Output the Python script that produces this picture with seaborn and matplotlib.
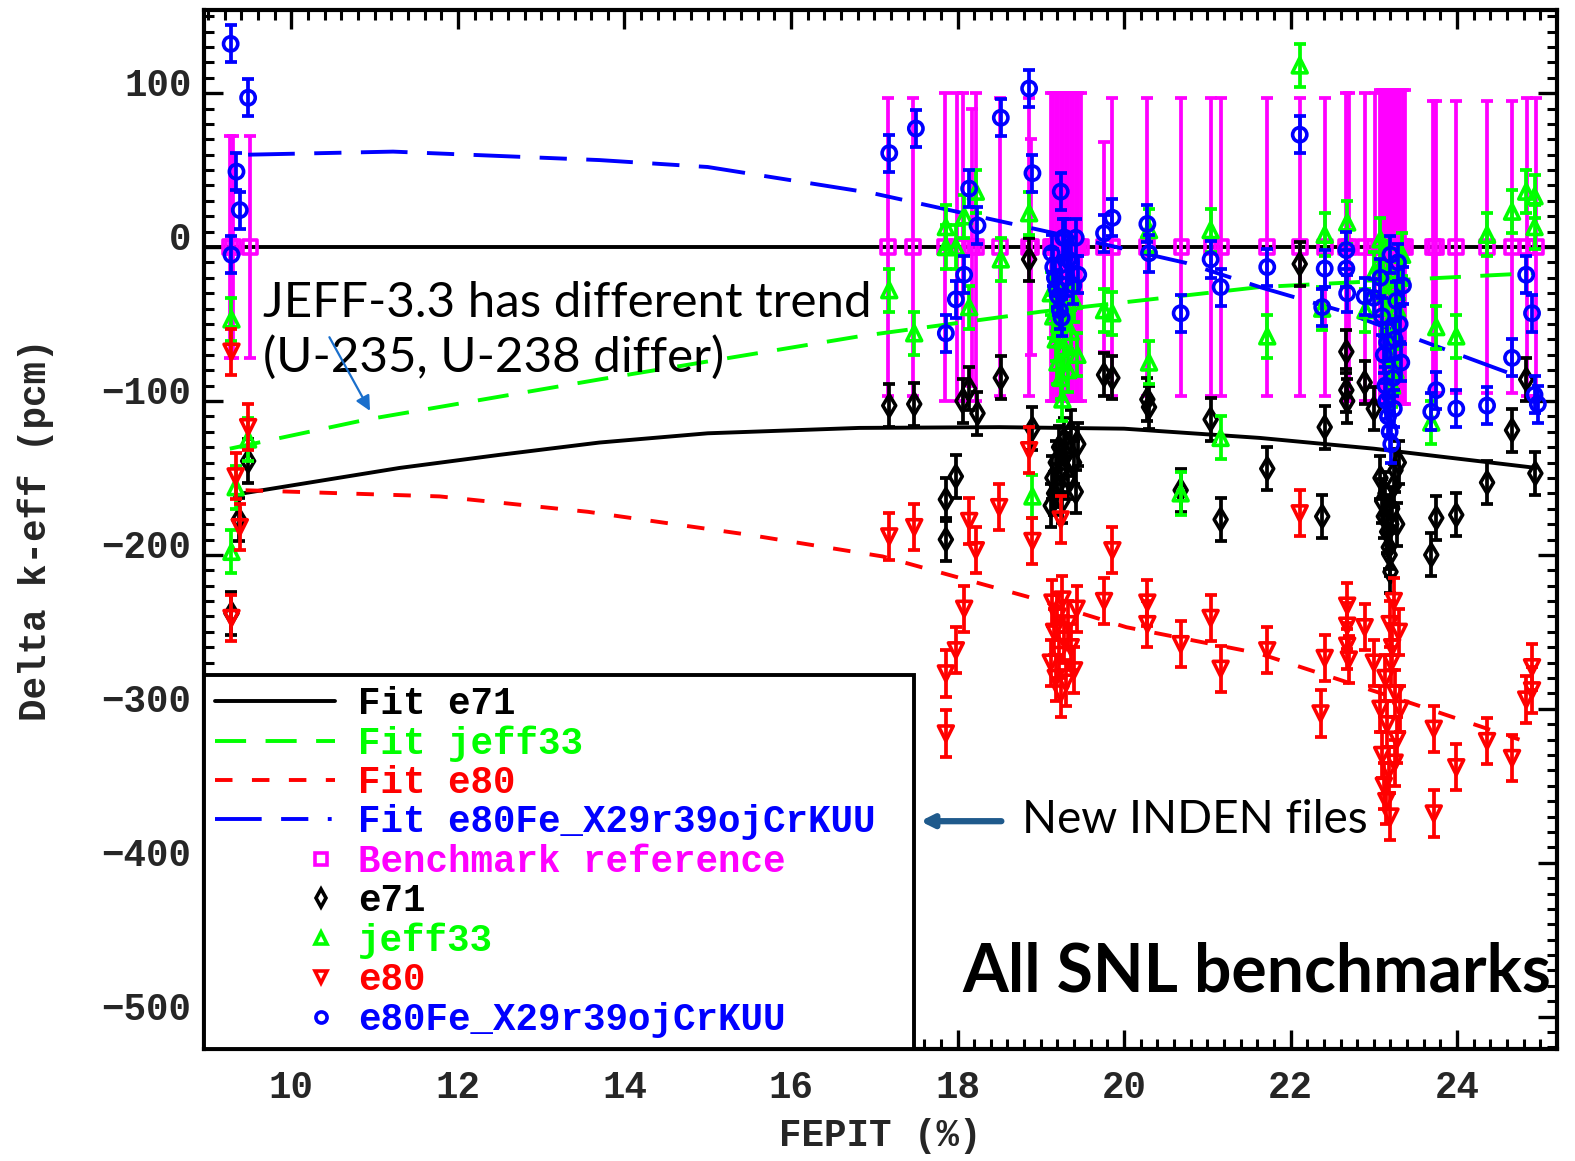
import numpy as np
import pandas as pd
import matplotlib
matplotlib.use("Agg")
import matplotlib.pyplot as plt
import matplotlib.transforms as mtransforms
import seaborn as sns
from matplotlib.lines import Line2D
from matplotlib.ticker import MultipleLocator
from matplotlib.font_manager import FontProperties
from matplotlib.legend_handler import HandlerLine2D

# ---------------- data ----------------
bench_x = [9.26, 9.30, 9.50,
           17.17, 17.46, 17.85, 17.99, 18.06, 18.17, 18.22, 18.51, 18.86, 18.88,
           19.12, 19.15, 19.18, 19.21, 19.24, 19.27, 19.30, 19.33, 19.36, 19.39, 19.42, 19.45, 19.48,
           19.76, 19.86, 20.28, 20.69, 21.05, 21.17, 21.72, 22.11, 22.41, 22.66, 22.70, 22.89, 23.01,
           23.07, 23.095, 23.12, 23.145, 23.17, 23.195, 23.22, 23.245, 23.27, 23.295, 23.32, 23.345, 23.37,
           23.71, 23.75, 23.99, 24.36, 24.66, 24.84, 24.95]
bench_err = [72, 72, 72,
             97, 97, 100, 100, 100, 90, 100, 97, 97, 70,
             100, 100, 100, 100, 100, 100, 100, 100, 100, 100, 100, 100, 100,
             68, 97, 97, 97, 97, 97, 97, 97, 97, 100, 100, 100, 100,
             102, 102, 102, 102, 102, 102, 102, 102, 102, 102, 102, 102, 102,
             95, 95, 95, 95, 95, 97, 97]

e71_x = [9.48, 9.37, 9.28,
         17.18, 17.48, 17.86, 17.86, 17.98, 18.06, 18.14, 18.24, 18.52, 18.86, 18.90,
         19.12, 19.14, 19.16, 19.18, 19.20, 19.22, 19.24, 19.26, 19.28, 19.30, 19.33, 19.36, 19.40, 19.42, 19.45,
         19.76, 19.86, 20.28, 20.30, 20.68, 21.04, 21.16, 21.72, 22.11, 22.41, 22.38, 22.67, 22.67, 22.68, 22.89, 23.00,
         23.08, 23.10, 23.12, 23.14, 23.16, 23.18, 23.20, 23.22, 23.24, 23.26, 23.28, 23.30, 23.19, 23.21,
         23.75, 23.69, 23.99, 24.36, 24.66, 24.83, 24.94]
e71_y = [-139, -177, -238,
         -103, -102, -164, -190, -149, -100, -92, -108, -85, -8, -118,
         -168, -150, -160, -140, -155, -130, -145, -165, -125, -135, -150, -120, -140, -159, -128,
         -83, -85, -99, -104, -158, -112, -177, -144, -11, -117, -175, -68, -93, -100, -88, -105,
         -150, -165, -175, -160, -185, -195, -211, -170, -155, -145, -180, -140, -200, -180,
         -176, -200, -174, -153, -119, -86, -147]
e71_err = 14

jeff33_x = [9.28, 9.48, 9.33, 9.28,
            17.18, 17.48, 17.86, 17.86, 17.98, 18.08, 18.14, 18.22, 18.52, 18.86, 18.90,
            19.12, 19.15, 19.18, 19.20, 19.22, 19.24, 19.26, 19.28, 19.30, 19.33, 19.36, 19.40, 19.44,
            19.76, 19.86, 20.30, 20.30, 20.68, 21.04, 21.16, 21.72, 22.11, 22.41, 22.38, 22.68, 22.90, 23.00,
            23.08, 23.11, 23.14, 23.17, 23.20, 23.22, 23.25, 23.28, 23.31, 23.34, 23.19, 23.26,
            23.75, 23.69, 23.99, 24.36, 24.66, 24.83, 24.93, 24.93]
jeff33_y = [-47, -125, -156, -198,
            -28, -56, 13, 0, 0, 20, -39, 36, -8, 22, -162,
            -30, -45, -60, -75, -50, -85, -99, -65, -40, -80, -55, -35, -70,
            -41, -43, -75, 11, -160, 11, -124, -58, 118, 8, -40, 16, -41, -17,
            5, -10, -30, -50, -70, -90, -60, -40, -20, -5, -15, -80,
            -52, -114, -58, 8, 23, 36, 33, 13]
jeff33_err = 14

e80_x = [9.28, 9.48, 9.33, 9.38, 9.28,
         17.18, 17.48, 17.86, 17.86, 17.98, 18.08, 18.14, 18.22, 18.50, 18.86, 18.90, 19.24,
         19.12, 19.14, 19.16, 19.18, 19.20, 19.22, 19.24, 19.26, 19.28, 19.30, 19.33, 19.36, 19.40, 19.43,
         19.76, 19.86, 20.28, 20.28, 20.68, 21.04, 21.16, 21.72, 22.11, 22.41, 22.36,
         22.68, 22.68, 22.68, 22.70, 22.89, 23.00,
         23.08, 23.10, 23.12, 23.14, 23.16, 23.18, 23.20, 23.22, 23.24, 23.26, 23.28, 23.30, 23.32,
         23.15, 23.21, 23.19, 23.25,
         23.72, 23.72, 23.99, 24.36, 24.66, 24.83, 24.90, 24.90]
e80_y = [-68, -117, -149, -182, -241,
         -188, -182, -277, -316, -262, -235, -178, -197, -169, -132, -191, -177,
         -270, -231, -250, -280, -240, -265, -290, -229, -255, -283, -245, -260, -275, -235,
         -230, -197, -231, -245, -258, -241, -274, -262, -173, -267, -303,
         -233, -246, -259, -268, -247, -270,
         -300, -330, -350, -280, -310, -340, -370, -260, -230, -290, -320, -250, -300,
         -360, -270, -245, -335,
         -368, -313, -338, -321, -332, -294, -273, -288]
e80_err = 15

e80fe_x = [9.27, 9.48, 9.34, 9.38, 9.28,
           17.18, 17.50, 17.86, 17.98, 18.08, 18.14, 18.24, 18.52, 18.86, 18.90, 19.24,
           19.13, 19.15, 19.17, 19.19, 19.21, 19.23, 19.25, 19.27, 19.29, 19.31, 19.33, 19.36, 19.39, 19.42, 19.45,
           19.76, 19.86, 20.28, 20.30, 20.68, 21.04, 21.16, 21.72, 22.11, 22.41, 22.38,
           22.67, 22.67, 22.68, 22.89, 23.00,
           23.08, 23.10, 23.12, 23.14, 23.15, 23.17, 23.19, 23.21, 23.23, 23.25, 23.27, 23.29, 23.31, 23.33,
           23.35, 23.20, 23.16, 23.24,
           23.75, 23.69, 23.99, 24.36, 24.66, 24.83, 24.90, 24.93, 24.97]
e80fe_y = [132, 97, 49, 24, -5,
           61, 77, -56, -34, -18, 38, 14, 84, 103, 48, 36,
           -4, -13, -20, -27, -32, -41, -46, 6, 6, -20, -8, -10, -25, 6, -18,
           9, 19, 15, -4, -43, -8, -26, -13, 73, -14, -39,
           -2, -14, -30, -32, -33,
           -20, -45, -70, -90, -100, -110, -120, -128, -85, -60, -35, -10, -50, -75,
           -25, -5, -62, -105,
           -93, -107, -105, -103, -72, -18, -43, -96, -102]
e80fe_err = 12

fit_e71_x = [9.42, 11.3, 12.5, 13.7, 15.0, 16.82, 18.5, 20.0, 21.63, 23.0, 24.95]
fit_e71_y = [-160, -143.5, -135, -127, -121, -117.5, -117, -118, -124, -131, -143.5]
fit_jeff33_x = [9.26, 10.91, 13.70, 16.82, 19.0, 21.63, 24.9]
fit_jeff33_y = [-131, -112, -86, -58, -42, -26, -17]
fit_e80_x = [9.45, 11.78, 13.56, 15.5, 17.1, 18.83, 20.03, 21.62, 23.43, 24.75]
fit_e80_y = [-158, -162, -172, -187, -201, -227, -247, -264, -296, -320]
fit_e80fe_x = [9.48, 11.22, 13.70, 15.0, 16.98, 19.5, 20.75, 21.63, 22.58, 24.63, 24.8]
fit_e80fe_y = [60, 62, 56.5, 52, 35, 5, -10.4, -26, -41, -82, -85]

# ---------------- style ----------------
BLACK, GREEN, RED, BLUE, MAG = "#000000", "#00ff00", "#ff0000", "#0000ff", "#ff00ff"
sns.set_theme(style="white")
plt.rcParams['font.family'] = ['Liberation Mono', 'DejaVu Sans']
plt.rcParams['axes.unicode_minus'] = True
mono = FontProperties(family='Liberation Mono', weight='bold', size=27)

fig = plt.figure(figsize=(15.75, 11.61), dpi=100)
ax = fig.add_axes([204/1575, 1-1049/1161, (1557-204)/1575, (1049-10)/1161])
ax.set_facecolor('white')

ax.axhline(0, color=BLACK, lw=2.8, zorder=1.5)

EL = 2.7
def draw_points(xs, ys, err, color, marker, size, z):
    ax.errorbar(xs, ys, yerr=err, fmt='none', ecolor=color, elinewidth=EL,
                capsize=4, capthick=EL, zorder=z)
    df = pd.DataFrame({'x': xs, 'y': ys})
    sns.scatterplot(data=df, x='x', y='y', ax=ax, marker=marker, s=size,
                    color=color, facecolor='none', edgecolor=color,
                    linewidth=2.6, zorder=z + 0.1, legend=False)

draw_points(bench_x, [0]*len(bench_x), bench_err, MAG, 's', 100, 2)

def draw_fit(xs, ys, color, ls):
    sns.lineplot(x=xs, y=ys, ax=ax, color=color, lw=2.8, linestyle=ls,
                 estimator=None, sort=False, zorder=3.5)

draw_fit(fit_e71_x, fit_e71_y, BLACK, '-')
draw_fit(fit_jeff33_x, fit_jeff33_y, GREEN, (0, (8, 5)))
draw_fit(fit_e80_x, fit_e80_y, RED, (0, (4.5, 5)))
draw_fit(fit_e80fe_x, fit_e80fe_y, BLUE, (0, (12, 5, 7, 5)))

draw_points(e71_x, e71_y, e71_err, BLACK, 'd', 120, 4)
draw_points(jeff33_x, jeff33_y, jeff33_err, GREEN, '^', 115, 4.2)
draw_points(e80_x, e80_y, e80_err, RED, 'v', 115, 4.4)
draw_points(e80fe_x, e80fe_y, e80fe_err, BLUE, 'o', 105, 4.6)

ax.set_xlim(8.95, 25.2)
ax.set_ylim(-521, 154)
ax.xaxis.set_major_locator(MultipleLocator(2))
ax.xaxis.set_minor_locator(MultipleLocator(0.2))
ax.yaxis.set_major_locator(MultipleLocator(100))
ax.yaxis.set_minor_locator(MultipleLocator(10))
ax.tick_params(which='both', direction='in', top=True, right=True, bottom=True, left=True, color=BLACK)
ax.tick_params(which='major', length=14, width=2.4)
ax.tick_params(which='minor', length=7, width=2.2)
ax.tick_params(axis='x', which='major', pad=15)
ax.tick_params(axis='y', which='major', pad=9)
for lab in ax.get_xticklabels() + ax.get_yticklabels():
    lab.set_fontproperties(mono)
up = mtransforms.ScaledTranslation(0, 8/72, fig.dpi_scale_trans)
for t in ax.yaxis.get_major_ticks():
    t.label1.set_transform(t.label1.get_transform() + up)
for sp in ax.spines.values():
    sp.set_color(BLACK)
    sp.set_linewidth(3)
ax.set_xlabel('FEPIT (%)', fontproperties=mono, labelpad=9)
ax.set_ylabel('Delta k-eff (pcm)', fontproperties=mono, labelpad=34)

# annotations
ax.text(9.66, -22, 'JEFF-3.3 has different trend\n(U-235, U-238 differ)',
        family='Lato', fontsize=35.5, color=BLACK, va='top', ha='left',
        linespacing=1.28, zorder=6)
ax.annotate('', xy=(10.96, -108), xytext=(10.44, -57),
            arrowprops=dict(arrowstyle='-|>', color='#1a6fcc', lw=1.6,
                            mutation_scale=22), zorder=6)
ax.annotate('', xy=(17.52, -373), xytext=(18.56, -373),
            arrowprops=dict(arrowstyle='-|>', color='#1f5a8c', lw=4.5,
                            mutation_scale=18), zorder=6)
ax.text(18.77, -372, 'New INDEN files', family='Lato', fontsize=33,
        color=BLACK, va='center', ha='left', zorder=6)
ax.text(18.06, -471, 'All SNL benchmarks', family='Lato', fontweight='bold',
        fontsize=47.5, color=BLACK, va='center', ha='left', zorder=6)

# legend
class RightMarkerHandler(HandlerLine2D):
    def get_xdata(self, legend, xdescent, ydescent, width, height, fontsize):
        # numpoints=1 puts the marker in the middle of xdata, so shift xdata right
        return (np.array([-xdescent + 0.76 * width, -xdescent + width]),
                np.array([-xdescent + 0.88 * width]))

handles = [
    Line2D([], [], color=BLACK, lw=2.8, ls='-'),
    Line2D([], [], color=GREEN, lw=2.8, ls=(0, (8, 5))),
    Line2D([], [], color=RED, lw=2.8, ls=(0, (4.5, 5))),
    Line2D([], [], color=BLUE, lw=2.8, ls=(0, (12, 5, 7, 5, 1, 5))),
    Line2D([], [], ls='none', marker='s', mfc='none', mec=MAG, mew=2.6, ms=8),
    Line2D([], [], ls='none', marker='d', mfc='none', mec=BLACK, mew=2.6, ms=9),
    Line2D([], [], ls='none', marker='^', mfc='none', mec=GREEN, mew=2.6, ms=8),
    Line2D([], [], ls='none', marker='v', mfc='none', mec=RED, mew=2.6, ms=8),
    Line2D([], [], ls='none', marker='o', mfc='none', mec=BLUE, mew=2.6, ms=8),
]
labels = ['Fit e71', 'Fit jeff33', 'Fit e80', 'Fit e80Fe_X29r39ojCrKUU',
          'Benchmark reference', 'e71', 'jeff33', 'e80', 'e80Fe_X29r39ojCrKUU']
lcolors = [BLACK, GREEN, RED, BLUE, MAG, BLACK, GREEN, RED, BLUE]
hmap = {h: RightMarkerHandler() for h in handles[4:]}
leg = ax.legend(handles, labels, loc='lower left',
                bbox_to_anchor=(0, 0, (914-204)/(1557-204), 0.37), mode='expand',
                borderaxespad=0, frameon=True, fancybox=False, framealpha=1,
                edgecolor=BLACK, facecolor='white', prop=mono, labelcolor=lcolors,
                handlelength=3.2, handletextpad=0.6, labelspacing=0.09, borderpad=0.3,
                handler_map=hmap)
leg.get_frame().set_linewidth(2.8)
leg.set_zorder(10)

fig.savefig('out.png', dpi=100)
